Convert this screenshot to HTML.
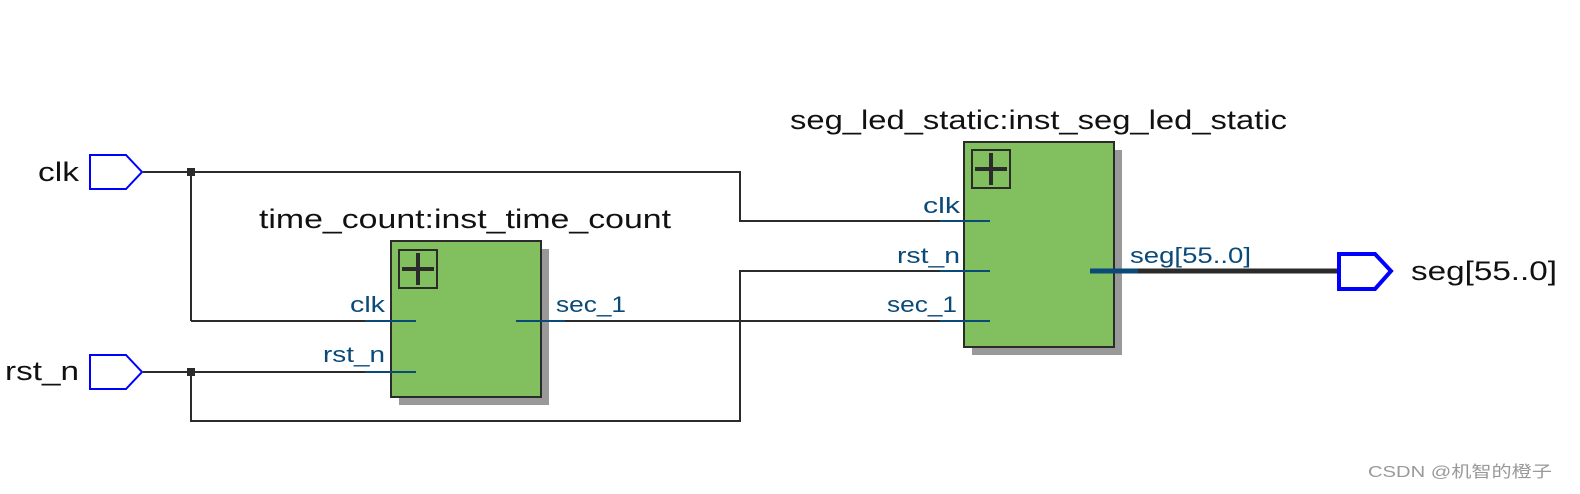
<!DOCTYPE html>
<html><head><meta charset="utf-8"><style>
html,body{margin:0;padding:0;background:#fff;}
svg{display:block;}
text{font-family:"Liberation Sans","DejaVu Sans",sans-serif;}
</style></head><body>
<svg width="1580" height="494" viewBox="0 0 1580 494" xmlns="http://www.w3.org/2000/svg">
<g stroke="#2b2b2b" stroke-width="2" fill="none">
<polyline points="143,172 740,172 740,221 965,221"/>
<line x1="191" y1="172" x2="191" y2="321"/>
<line x1="191" y1="321" x2="391" y2="321"/>
<line x1="143" y1="372" x2="391" y2="372"/>
<polyline points="191,372 191,421 740,421 740,271 965,271"/>
<line x1="541" y1="321" x2="965" y2="321"/>
</g>
<rect x="187" y="168" width="8" height="8" fill="#2b2b2b"/>
<rect x="187" y="368" width="8" height="8" fill="#2b2b2b"/>
<rect x="399" y="249" width="150" height="156" fill="#999"/>
<rect x="391" y="241" width="150" height="156" fill="#82bf5e" stroke="#2b2b2b" stroke-width="2"/>
<rect x="399" y="250" width="38" height="38" fill="none" stroke="#2b2b2b" stroke-width="2"/>
<line x1="402" y1="269" x2="434" y2="269" stroke="#2b2b2b" stroke-width="4"/>
<line x1="418" y1="253" x2="418" y2="285" stroke="#2b2b2b" stroke-width="4"/>
<g stroke="#0a4a78" stroke-width="2">
<line x1="365" y1="321" x2="416" y2="321"/>
<line x1="365" y1="372" x2="416" y2="372"/>
<line x1="516" y1="321" x2="565" y2="321"/>
</g>
<rect x="972" y="150" width="150" height="205" fill="#999"/>
<rect x="964" y="142" width="150" height="205" fill="#82bf5e" stroke="#2b2b2b" stroke-width="2"/>
<rect x="972" y="150" width="38" height="38" fill="none" stroke="#2b2b2b" stroke-width="2"/>
<line x1="975" y1="169" x2="1007" y2="169" stroke="#2b2b2b" stroke-width="4"/>
<line x1="991" y1="153" x2="991" y2="185" stroke="#2b2b2b" stroke-width="4"/>
<g stroke="#0a4a78" stroke-width="2">
<line x1="940" y1="221" x2="990" y2="221"/>
<line x1="940" y1="271" x2="990" y2="271"/>
<line x1="940" y1="321" x2="990" y2="321"/>
</g>
<line x1="1138" y1="271" x2="1340" y2="271" stroke="#2b2b2b" stroke-width="5"/>
<line x1="1090" y1="271" x2="1138" y2="271" stroke="#0a4a78" stroke-width="5"/>
<polygon points="90,155 126,155 142,172 126,189 90,189" fill="#fff" stroke="#0000ff" stroke-width="2"/>
<polygon points="90,355 126,355 142,372 126,389 90,389" fill="#fff" stroke="#0000ff" stroke-width="2"/>
<polygon points="1339,254 1375,254 1391,271 1375,289 1339,289" fill="#fff" stroke="#0000ff" stroke-width="4"/>
<g font-size="27" fill="#111" lengthAdjust="spacingAndGlyphs">
<text x="38" y="181" textLength="41" lengthAdjust="spacingAndGlyphs">clk</text>
<text x="5" y="380" textLength="74" lengthAdjust="spacingAndGlyphs">rst_n</text>
<text x="1411" y="280" textLength="146" lengthAdjust="spacingAndGlyphs">seg[55..0]</text>
<text x="259" y="228" textLength="412" lengthAdjust="spacingAndGlyphs">time_count:inst_time_count</text>
<text x="790" y="129" textLength="497" lengthAdjust="spacingAndGlyphs">seg_led_static:inst_seg_led_static</text>
</g>
<g font-size="22" fill="#0a4a78">
<text x="350" y="312" textLength="35" lengthAdjust="spacingAndGlyphs">clk</text>
<text x="323" y="362" textLength="62" lengthAdjust="spacingAndGlyphs">rst_n</text>
<text x="556" y="312" textLength="70" lengthAdjust="spacingAndGlyphs">sec_1</text>
<text x="923" y="213" textLength="37" lengthAdjust="spacingAndGlyphs">clk</text>
<text x="897" y="263" textLength="63" lengthAdjust="spacingAndGlyphs">rst_n</text>
<text x="887" y="312" textLength="70" lengthAdjust="spacingAndGlyphs">sec_1</text>
<text x="1130" y="263" textLength="121" lengthAdjust="spacingAndGlyphs">seg[55..0]</text>
</g>
<text x="1368" y="477" textLength="184" lengthAdjust="spacingAndGlyphs" font-size="16" fill="#999" style='font-family:"Liberation Sans","Noto Sans CJK SC",sans-serif'>CSDN @机智的橙子</text>
</svg>
</body></html>
